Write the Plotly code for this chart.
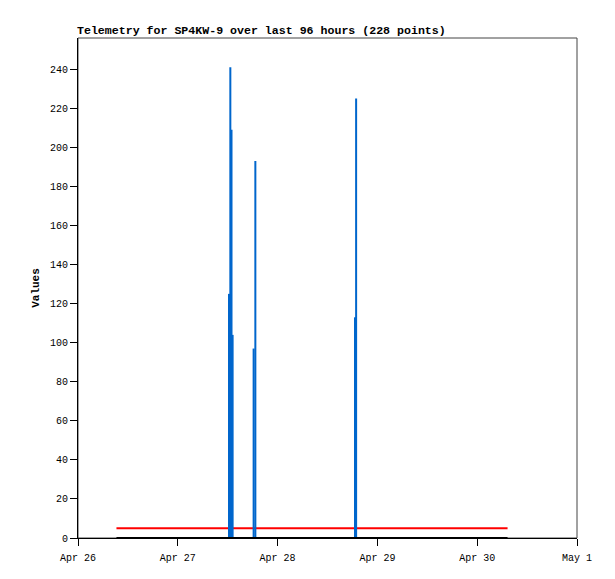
import plotly.graph_objects as go

# Blue telemetry channel: non-zero samples (impulses); all other samples are 0
spike_times = ["2025-04-27 12:19", "2025-04-27 12:38", "2025-04-27 12:55", "2025-04-27 13:11",
               "2025-04-27 18:14", "2025-04-27 18:39",
               "2025-04-28 18:37", "2025-04-28 18:53"]
spike_values = [125, 241, 209, 104, 97, 193, 113, 225]

# Series spanning the whole window
span_times = ["2025-04-26 09:15", "2025-04-30 07:18"]
red_values = [5, 5]
black_values = [0, 0]

x_tickvals = ["2025-04-26", "2025-04-27", "2025-04-28", "2025-04-29", "2025-04-30", "2025-05-01"]
x_ticktext = ["Apr 26", "Apr 27", "Apr 28", "Apr 29", "Apr 30", "May 1"]
y_tickvals = list(range(0, 241, 20))

# impulse segments built from the samples
bx, by = [], []
for t, v in zip(spike_times, spike_values):
    bx += [t, t, None]
    by += [0, v, None]

fig = go.Figure()
fig.add_trace(go.Scatter(x=span_times, y=red_values, mode="lines",
                         line=dict(color="#ff0000", width=2), hoverinfo="skip"))
fig.add_trace(go.Scatter(x=bx, y=by, mode="lines",
                         line=dict(color="#0066cc", width=2), hoverinfo="skip"))
fig.add_trace(go.Scatter(x=span_times, y=black_values, mode="lines",
                         line=dict(color="#000000", width=2), hoverinfo="skip"))

mono = "Liberation Mono"
W, H = 599, 563
fig.update_layout(
    width=W, height=H,
    margin=dict(l=70, r=30, t=30, b=33, autoexpand=False),
    paper_bgcolor="white", plot_bgcolor="white",
    showlegend=False,
    title=dict(text="<b>Telemetry for SP4KW-9 over last 96 hours (228 points)</b>",
               x=69 / W, xanchor="left", y=1 - 22 / H, yanchor="middle",
               font=dict(family=mono, size=11.6, color="black")),
    xaxis=dict(type="date", range=["2025-04-26", "2025-05-01"],
               tickvals=x_tickvals, ticktext=x_ticktext,
               automargin=False,
               showgrid=False, zeroline=False,
               showline=True, linecolor="black", linewidth=1,
               ticks="outside", ticklen=7, tickcolor="black", tickwidth=1,
               ticklabelstandoff=3,
               tickfont=dict(family=mono, size=10, color="black")),
    yaxis=dict(range=[0, 256], tickvals=y_tickvals,
               automargin=False,
               showgrid=False, zeroline=False,
               showline=True, linecolor="black", linewidth=1,
               ticks="outside", ticklen=7, tickcolor="black", tickwidth=1,
               tickfont=dict(family=mono, size=10, color="black"),
               title=dict(text="<b>Values</b>", standoff=8,
                          font=dict(family=mono, size=11, color="black"))),
    shapes=[dict(type="rect", xref="paper", yref="paper", x0=0, x1=1, y0=0, y1=1,
                 line=dict(color="#444444", width=1), layer="below")],
)

fig.write_html("out.html")
